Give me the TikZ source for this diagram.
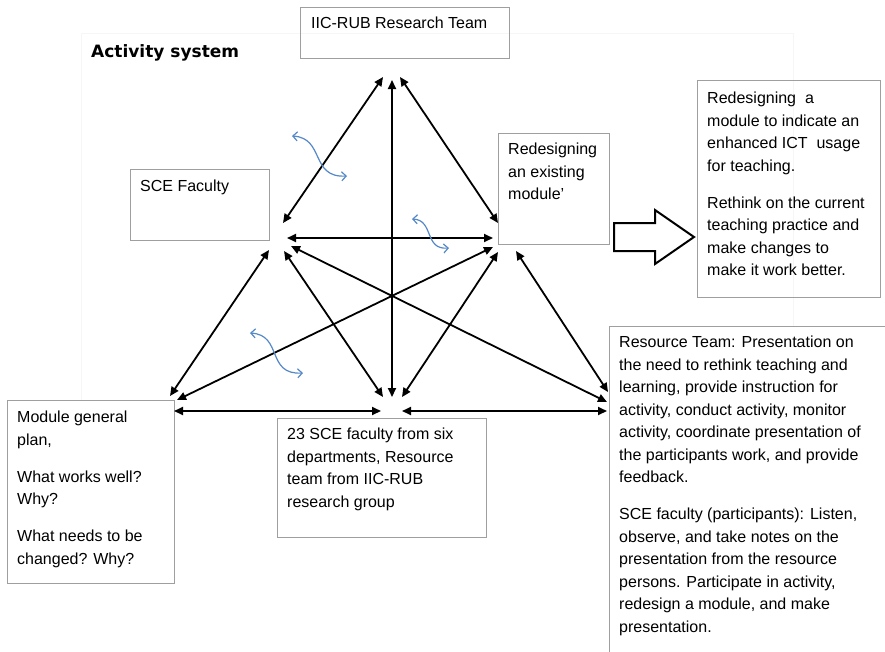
\documentclass[tikz,border=0pt]{standalone}
\usepackage{fontspec}
\setmainfont{Liberation Sans}
\newfontfamily\actfont{DejaVu Sans}
\usetikzlibrary{arrows.meta}
\definecolor{wavyblue}{RGB}{84,136,200}
\begin{document}
\begin{tikzpicture}[x=1pt,y=-1pt,
  box/.style={draw=gray!75, line width=0.9pt, rectangle, anchor=north west, inner sep=0pt},
  txt/.style={anchor=north west, inner sep=0pt, align=left, font=\fontsize{16}{22.5}\selectfont},
  arr/.style={line width=1.8pt, {Triangle[length=9pt,width=8pt]}-{Triangle[length=9pt,width=8pt]}},
  wavy/.style={draw=wavyblue, line width=1.2pt, {Straight Barb[length=4.5pt,width=9pt]}-{Straight Barb[length=4.5pt,width=9pt]}}]
\useasboundingbox (0,0) rectangle (885,651);
\fill[white] (0,0) rectangle (885,651);
% faint activity-system frame
\draw[gray!7, line width=0.8pt] (81,400) -- (81,33) -- (793,33) -- (793,326);
\node[anchor=north west, inner sep=0pt, font=\actfont\bfseries\fontsize{17}{20}\selectfont] (title) at (91,44) {Activity system};

% boxes
\node[box, minimum width=209pt, minimum height=51pt] (iic) at (300,7) {};
\node[box, minimum width=139pt, minimum height=71pt] (sce) at (130,169) {};
\node[box, minimum width=111pt, minimum height=111pt] (red) at (498,133) {};
\node[box, minimum width=183pt, minimum height=217pt] (out) at (697,80) {};
\node[box, minimum width=167pt, minimum height=183pt] (mod) at (7,400) {};
\node[box, minimum width=209pt, minimum height=119pt] (fac) at (277,418) {};
\begin{scope}
\clip (0,0) rectangle (885,651);
\node[box, minimum width=285pt, minimum height=335pt] (res) at (609,326) {};
\end{scope}

% texts
\node[txt] (iict) at (311,17) {IIC-RUB Research Team};
\node[txt] (scet) at (140,180) {SCE Faculty};
\node[txt] (redt) at (508,143) {Redesigning\\an existing\\module’};
\node[txt] (outt) at (707,92) {Redesigning~ a\\module to indicate an\\enhanced ICT~ usage\\for teaching.\\[14.5pt]Rethink on the current\\teaching practice and\\make changes to\\make it work better.};
\node[txt] (modt) at (17,411) {Module general\\plan,\\[14.5pt]What works well?\\Why?\\[14.5pt]What needs to be\\changed? Why?};
\node[txt] (fact) at (287,428) {23 SCE faculty from six\\departments, Resource\\team from IIC-RUB\\research group};
\node[txt] (rest) at (619,336) {Resource Team: Presentation on\\the need to rethink teaching and\\learning, provide instruction for\\activity, conduct activity, monitor\\activity, coordinate presentation of\\the participants work, and provide\\feedback.\\[14.5pt]SCE faculty (participants): Listen,\\observe, and take notes on the\\presentation from the resource\\persons. Participate in activity,\\redesign a module, and make\\presentation.};

% connector end points
\coordinate (tA) at (383,77);
\coordinate (tB) at (392,80);
\coordinate (tC) at (400,77);
\coordinate (s1) at (283,223);
\coordinate (s2) at (287,238);
\coordinate (s3) at (269,250);
\coordinate (s4) at (284,251);
\coordinate (s5) at (291,246);
\coordinate (r1) at (498,223);
\coordinate (r2) at (493,238);
\coordinate (r3) at (493,247);
\coordinate (r4) at (498,252);
\coordinate (r5) at (516,251);
\coordinate (m1) at (170,396);
\coordinate (m2) at (177,400);
\coordinate (m3) at (174,411);
\coordinate (b1) at (383,397);
\coordinate (b2) at (392,397);
\coordinate (b3) at (402,397);
\coordinate (b4) at (381,411);
\coordinate (b5) at (402,411);
\coordinate (q1) at (608,392);
\coordinate (q2) at (607,402);
\coordinate (q3) at (607,411);

\draw[arr] (tA) -- (s1);
\draw[arr] (tC) -- (r1);
\draw[arr] (tB) -- (b2);
\draw[arr] (s2) -- (r2);
\draw[arr] (s3) -- (m1);
\draw[arr] (s4) -- (b1);
\draw[arr] (s5) -- (q2);
\draw[arr] (r3) -- (m2);
\draw[arr] (r4) -- (b3);
\draw[arr] (r5) -- (q1);
\draw[arr] (m3) -- (b4);
\draw[arr] (b5) -- (q3);

% transformation arrow
\draw[line width=2pt, line join=miter, fill=white] (614,223) -- (655,223) -- (655,210) -- (694,237) -- (655,264) -- (655,251) -- (614,251) -- cycle;

% wavy blue double arrows
\coordinate (w1a) at (292,136);
\coordinate (w1b) at (347,176);
\coordinate (w2a) at (412,219);
\coordinate (w2b) at (449,248);
\coordinate (w3a) at (250,333);
\coordinate (w3b) at (303,373);
\draw[wavy] (w1a) .. controls (325,138) and (310,178) .. (w1b);
\draw[wavy] (w2a) .. controls (434,220) and (424,250) .. (w2b);
\draw[wavy] (w3a) .. controls (283,335) and (266,375) .. (w3b);
\end{tikzpicture}
\end{document}
